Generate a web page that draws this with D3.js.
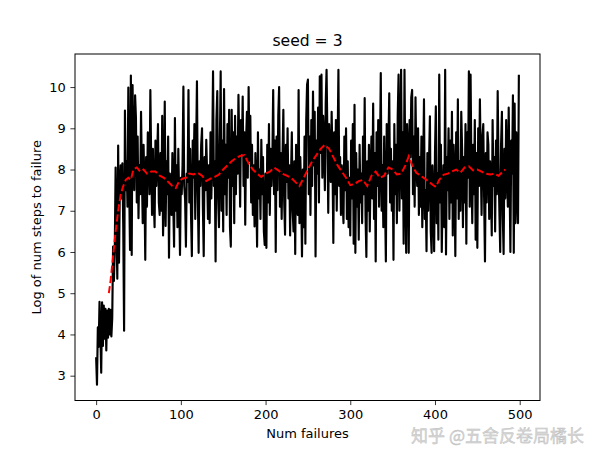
<!DOCTYPE html>
<html>
<head>
<meta charset="utf-8">
<script src="https://cdn.jsdelivr.net/npm/d3@7"></script>
<style>
  html, body { margin: 0; padding: 0; background: #fff; }
  svg { display: block; }
  text { font-family: "DejaVu Sans", sans-serif; }
</style>
</head>
<body>
<div id="chart"></div>
<script>
// Log of number of steps to failure, one value per failure index (0..499)
const logSteps = [
  3.45, 2.78, 4.17, 3.70, 4.79, 4.02, 3.07, 4.78, 3.72, 4.70,
  3.90, 4.62, 3.61, 4.58, 3.92, 4.62, 4.00, 4.60, 3.95, 4.40,
  6.13, 5.30, 6.10, 8.05, 6.50, 5.35, 8.58, 5.74, 7.60, 8.10,
  7.30, 8.15, 6.60, 4.09, 9.43, 7.50, 8.20, 7.10, 9.99, 7.60,
  6.05, 10.28, 5.93, 10.05, 8.40, 7.50, 9.80, 9.25, 7.20, 8.80,
  6.82, 8.10, 7.40, 9.40, 7.90, 6.70, 8.60, 7.60, 5.81, 8.30,
  7.10, 8.90, 8.70, 7.40, 9.93, 8.20, 6.90, 8.50, 7.30, 6.60,
  8.70, 7.60, 8.30, 9.10, 7.20, 6.90, 8.40, 7.00, 9.30, 6.40,
  7.50, 9.65, 6.63, 8.20, 7.40, 8.80, 5.86, 7.90, 7.50, 6.90,
  8.40, 7.20, 6.13, 9.25, 7.00, 8.10, 6.60, 8.50, 7.30, 5.93,
  7.80, 7.40, 8.10, 10.01, 7.60, 7.30, 6.13, 7.90, 7.70, 9.93,
  7.20, 8.50, 6.90, 5.90, 8.70, 7.80, 9.10, 6.80, 8.40, 10.14,
  7.40, 5.98, 8.20, 7.60, 8.60, 9.00, 7.10, 5.90, 8.30, 7.50,
  8.72, 7.90, 6.80, 8.10, 6.70, 8.90, 7.30, 8.40, 10.38, 7.60,
  8.20, 5.77, 9.20, 9.90, 7.30, 6.60, 8.50, 10.38, 7.00, 8.70,
  6.50, 9.95, 7.40, 8.60, 6.90, 9.10, 7.80, 9.45, 6.60, 6.13,
  9.45, 7.60, 8.90, 6.70, 9.30, 7.40, 8.80, 7.90, 9.81, 8.50,
  7.10, 9.20, 8.40, 9.77, 7.60, 8.90, 6.66, 8.70, 9.40, 7.80,
  10.00, 8.20, 9.30, 7.20, 8.60, 6.90, 8.10, 6.62, 8.40, 7.50,
  6.13, 8.90, 7.30, 8.00, 6.80, 8.72, 7.40, 8.30, 6.50, 6.17,
  7.90, 6.10, 8.60, 7.20, 9.10, 6.90, 8.50, 7.60, 8.20, 9.93,
  7.40, 8.70, 6.00, 8.80, 7.50, 9.30, 10.00, 7.10, 8.40, 6.80,
  8.30, 9.45, 7.20, 6.42, 8.60, 7.70, 9.00, 7.30, 8.10, 6.40,
  7.80, 8.90, 7.00, 6.50, 8.20, 5.95, 8.60, 7.40, 6.90, 9.93,
  6.70, 8.30, 7.50, 5.89, 8.00, 6.60, 8.80, 6.20, 9.20, 10.06,
  10.18, 7.40, 8.80, 6.90, 9.20, 7.60, 9.89, 8.10, 9.40, 5.89,
  8.70, 7.90, 9.50, 7.20, 10.26, 8.40, 10.30, 7.80, 9.30, 8.60,
  7.50, 9.60, 10.42, 8.80, 6.95, 9.10, 8.30, 7.70, 9.40, 8.20,
  6.22, 8.90, 7.40, 9.20, 7.00, 8.50, 10.42, 7.60, 8.30, 6.90,
  8.10, 7.20, 6.70, 8.80, 7.50, 9.00, 6.80, 8.20, 6.60, 7.80,
  6.40, 8.70, 7.30, 9.10, 6.20, 9.57, 5.98, 8.40, 7.10, 8.00,
  6.30, 8.60, 7.20, 7.90, 6.70, 8.80, 7.40, 9.73, 6.90, 5.88,
  8.20, 7.00, 8.60, 6.50, 7.90, 8.80, 7.30, 9.60, 6.80, 8.40,
  5.77, 8.90, 7.60, 9.20, 7.10, 8.30, 10.34, 7.00, 8.10, 6.60,
  8.80, 7.30, 5.77, 9.10, 7.90, 8.60, 9.85, 7.20, 8.50, 7.00,
  8.20, 5.81, 9.10, 7.40, 8.60, 6.70, 9.30, 10.30, 7.00, 8.40,
  10.42, 7.30, 8.90, 6.20, 10.42, 7.80, 5.98, 9.10, 8.50, 5.98,
  9.20, 8.30, 9.75, 9.93, 7.40, 8.80, 7.10, 9.75, 8.20, 7.60,
  9.00, 6.90, 8.30, 7.10, 8.80, 6.60, 7.90, 9.70, 6.80, 7.50,
  6.02, 8.40, 7.00, 8.20, 9.29, 6.50, 5.98, 8.10, 7.30, 6.02,
  8.40, 9.53, 6.70, 7.90, 6.30, 10.30, 7.20, 8.60, 6.00, 7.40,
  8.10, 6.60, 10.42, 5.94, 8.30, 7.50, 9.00, 6.80, 8.70, 7.20,
  9.40, 6.40, 8.60, 7.80, 5.90, 8.90, 7.30, 9.70, 6.80, 8.20,
  7.00, 9.40, 8.50, 6.60, 8.30, 7.20, 9.10, 6.20, 8.90, 7.80,
  10.38, 7.10, 10.30, 8.00, 6.70, 8.60, 7.40, 9.20, 6.30, 8.40,
  6.10, 9.00, 7.60, 9.70, 8.20, 6.90, 8.80, 9.10, 7.30, 5.77,
  8.40, 7.20, 8.90, 8.60, 6.80, 8.20, 7.50, 6.40, 9.20, 7.60,
  8.30, 6.50, 8.70, 7.40, 9.90, 8.10, 7.00, 6.00, 8.60, 9.40,
  6.90, 5.95, 8.50, 7.30, 9.20, 8.00, 7.10, 9.50, 7.80, 6.00,
  8.70, 7.90, 9.80, 5.98, 9.60, 6.70, 8.90, 7.40, 6.70, 10.30
];

// Moving average (red dashed)
const avgX = [15, 17, 20, 23, 26, 29, 32, 35, 38, 41, 44, 48, 52, 56, 60, 65, 70, 75, 80, 85,
  90, 94, 98, 102, 106, 110, 115, 120, 125, 130, 135, 140, 145, 150, 155, 160, 165, 170, 175, 180,
  185, 190, 195, 200, 205, 210, 215, 220, 225, 230, 235, 240, 245, 250, 255, 260, 265, 270, 275, 280,
  285, 290, 295, 300, 305, 310, 315, 320, 325, 330, 335, 340, 345, 350, 355, 360, 365, 369, 373, 378,
  383, 388, 393, 398, 401, 405, 410, 415, 420, 425, 430, 435, 440, 445, 450, 455, 460, 465, 470, 475,
  480, 483];
const avgY = [5.0, 5.3, 5.9, 6.5, 7.0, 7.4, 7.6, 7.75, 7.8, 7.75, 8.0, 8.05, 7.95, 8.0, 7.9, 7.95, 7.95, 7.85, 7.8, 7.7,
  7.6, 7.55, 7.72, 7.78, 7.8, 7.9, 7.88, 7.92, 7.85, 7.72, 7.78, 7.82, 7.88, 8.0, 8.1, 8.2, 8.28, 8.33, 8.35, 8.15,
  8.0, 7.9, 7.82, 7.9, 7.95, 8.05, 7.98, 7.9, 7.85, 7.8, 7.7, 7.6, 7.8, 8.0, 8.2, 8.35, 8.5, 8.6, 8.5, 8.3,
  8.1, 7.95, 7.8, 7.62, 7.65, 7.72, 7.75, 7.6, 7.85, 7.95, 7.8, 7.85, 8.05, 8.0, 7.88, 7.9, 8.1, 8.32, 8.1, 7.92,
  7.85, 7.78, 7.7, 7.62, 7.58, 7.75, 7.87, 7.9, 7.95, 8.0, 7.92, 8.05, 8.08, 7.98, 8.0, 7.95, 7.9, 7.88, 7.9, 7.85,
  7.95, 8.0];

const xTicks = [0, 100, 200, 300, 400, 500];
const yTicks = [3, 4, 5, 6, 7, 8, 9, 10];

const titleText = "seed = 3";
const xLabel = "Num failures";
const yLabel = "Log of num steps to failure";
const watermark = "知乎 @五舍反卷局橘长";

const W = 600, H = 450;
const mLeft = 75, mRight = 540, mTop = 54, mBottom = 400.5;

const svg = d3.select("#chart").append("svg")
  .attr("width", W).attr("height", H);

const n = logSteps.length;
const xPad = (n - 1) * 0.05;
const x = d3.scaleLinear().domain([-xPad, n - 1 + xPad]).range([mLeft, mRight]);
const ext = d3.extent(logSteps);
const yPad = (ext[1] - ext[0]) * 0.05;
const y = d3.scaleLinear().domain([ext[0] - yPad, ext[1] + yPad]).range([mBottom, mTop]);

svg.append("defs").append("clipPath").attr("id", "clip")
  .append("rect").attr("x", mLeft).attr("y", mTop).attr("width", mRight - mLeft).attr("height", mBottom - mTop);

const g = svg.append("g").attr("clip-path", "url(#clip)");

g.append("path")
  .datum(logSteps)
  .attr("fill", "none")
  .attr("stroke", "#000")
  .attr("stroke-width", 2.15)
  .attr("stroke-linejoin", "round")
  .attr("d", d3.line().x((d, i) => x(i)).y(d => y(d)));

g.append("path")
  .datum(avgX.map((v, i) => [v, avgY[i]]))
  .attr("fill", "none")
  .attr("stroke", "#ff0000")
  .attr("stroke-width", 1.95)
  .attr("stroke-dasharray", "7.2,3.1")
  .attr("d", d3.line().x(d => x(d[0])).y(d => y(d[1])));

// axes
const xAxis = d3.axisBottom(x).tickValues(xTicks).tickSize(4.6).tickPadding(4.6);
const yAxis = d3.axisLeft(y).tickValues(yTicks).tickSize(4.6).tickPadding(4.6);

const gx = svg.append("g").attr("transform", `translate(0,${mBottom})`).call(xAxis);
const gy = svg.append("g").attr("transform", `translate(${mLeft},0)`).call(yAxis);
[gx, gy].forEach(a => {
  a.select(".domain").remove();
  a.selectAll("line").attr("stroke", "#000").attr("stroke-width", 0.8);
  a.selectAll("text").attr("fill", "#000").style("font-size", "13px").style("font-family", "DejaVu Sans");
});

// frame
svg.append("rect").attr("x", mLeft).attr("y", mTop).attr("width", mRight - mLeft).attr("height", mBottom - mTop)
  .attr("fill", "none").attr("stroke", "#000").attr("stroke-width", 1);

svg.append("text").attr("x", (mLeft + mRight) / 2).attr("y", 46)
  .attr("text-anchor", "middle").style("font-size", "15.6px").text(titleText);

svg.append("text").attr("x", (mLeft + mRight) / 2).attr("y", 438)
  .attr("text-anchor", "middle").style("font-size", "13px").text(xLabel);

svg.append("text").attr("transform", `translate(41,${(mTop + mBottom) / 2}) rotate(-90)`)
  .attr("text-anchor", "middle").style("font-size", "13px").text(yLabel);

svg.append("text").attr("x", 584).attr("y", 442)
  .attr("text-anchor", "end")
  .style("font-family", "'Noto Sans CJK SC', sans-serif")
  .style("font-size", "17px")
  .attr("fill", "#d8d8d8")
  .attr("stroke", "#bdbdbd").attr("stroke-width", 0.4)
  .text(watermark);
</script>
</body>
</html>
